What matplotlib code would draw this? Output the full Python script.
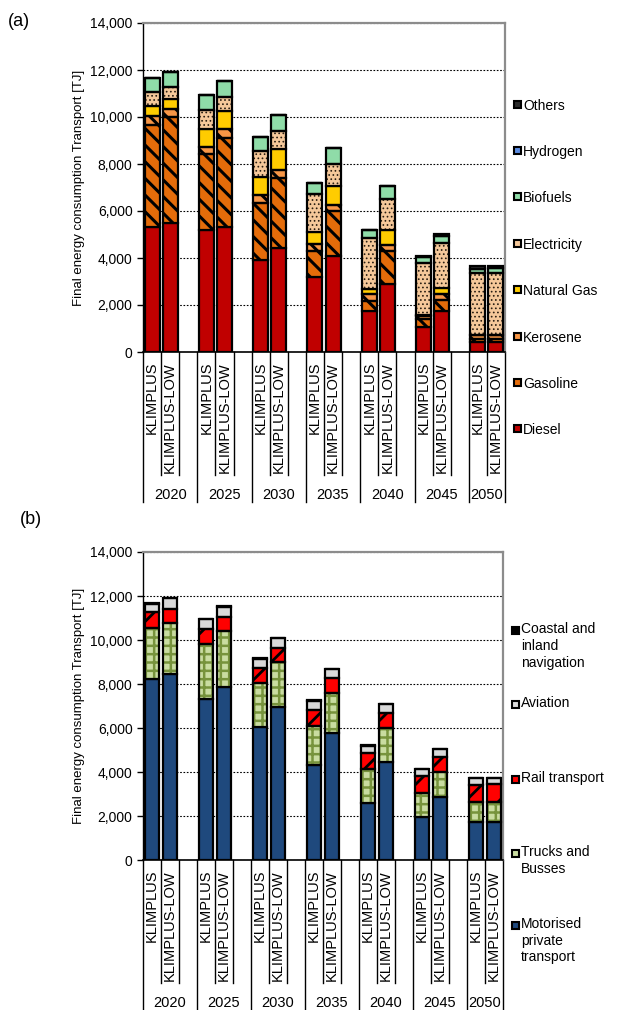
import numpy as np
import matplotlib as mpl
mpl.use("Agg")
from matplotlib import pyplot as plt
from matplotlib.patches import Rectangle
import matplotlib.transforms as mtransforms

plt.rcParams["font.family"] = ["Liberation Sans", "DejaVu Sans"]

# - data (TJ), order per year: KLIMPLUS, KLIMPLUS-LOW
years = ["2020", "2025", "2030", "2035", "2040", "2045", "2050"]
scenarios = ["KLIMPLUS", "KLIMPLUS-LOW"]

diesel = [5320, 5470, 5180, 5330, 3900, 4420, 3190, 4100, 1760, 2900, 1070, 1760, 440, 440]
gasoline = [4320, 4510, 3230, 3790, 2450, 2980, 1090, 1880, 410, 1380, 330, 450, 100, 100]
kerosene = [400, 370, 330, 350, 320, 360, 330, 290, 300, 290, 130, 260, 180, 190]
natural_gas = [430, 430, 730, 780, 780, 880, 480, 810, 220, 630, 50, 270, 0, 0]
electricity = [610, 510, 830, 600, 1100, 760, 1650, 930, 2180, 1320, 2210, 1880, 2630, 2640]
biofuels = [590, 610, 650, 690, 610, 690, 450, 650, 330, 540, 250, 330, 170, 190]
hydrogen = [0, 0, 0, 0, 0, 0, 0, 0, 0, 0, 0, 0, 0, 0]
others = [0, 0, 0, 0, 0, 0, 0, 0, 0, 0, 60, 50, 140, 110]

mpt = [8210, 8440, 7300, 7880, 6060, 6970, 4320, 5760, 2610, 4440, 1940, 2850, 1740, 1740]
trucks = [2350, 2350, 2520, 2540, 2000, 2010, 1780, 1840, 1510, 1570, 1090, 1130, 910, 910]
rail = [700, 600, 660, 640, 650, 640, 720, 690, 730, 690, 790, 720, 760, 790]
aviation = [380, 500, 460, 450, 430, 460, 410, 390, 350, 390, 300, 330, 300, 270]
coastal = [30, 20, 20, 20, 20, 20, 20, 20, 20, 20, 20, 20, 20, 20]

# name, values, face colour, hatch, hatch colour, hatch linewidth
fuel_series = [
    ("Diesel", diesel, "#C00000", None, None, 1),
    ("Gasoline", gasoline, "#E46C0A", "\\\\", "black", 2.2),
    ("Kerosene", kerosene, "#F79646", "\\\\", "black", 2.2),
    ("Natural Gas", natural_gas, "#FFCC00", None, None, 1),
    ("Electricity", electricity, "#F5C89A", "....", "#2A1E12", 0.7),
    ("Biofuels", biofuels, "#8FDCA8", None, None, 1),
    ("Hydrogen", hydrogen, "#5B8BE0", None, None, 1),
    ("Others", others, "#2B2B2B", None, None, 1),
]
sector_series = [
    ("Motorised\nprivate\ntransport", mpt, "#1F497D", None, None, 1),
    ("Trucks and\nBusses", trucks, "#C9DCA0", "++", "#77933C", 1.8),
    ("Rail transport", rail, "#FF0000", "/", "black", 2.0),
    ("Aviation", aviation, "#D9D9D9", None, None, 1),
    ("Coastal and\ninland\nnavigation", coastal, "#000000", None, None, 1),
]

W, H = 619, 1010
fig = plt.figure(figsize=(W / 100, H / 100), dpi=100)


def fx(x):
    return x / W


def fy(y):
    return 1 - y / H


def draw_panel(ax, series):
    # slot positions: K, KL, gap per year
    xpos = []
    for g in range(len(years)):
        xpos.extend([3 * g, 3 * g + 1])
    xpos = np.array(xpos)
    bottom = np.zeros(len(xpos))
    for name, vals, color, hatch, hcolor, hlw in series:
        vals = np.array(vals, dtype=float)
        if hatch is not None:
            with plt.rc_context({"hatch.linewidth": hlw}):
                bars = ax.bar(xpos, vals, 0.83, bottom=bottom, color=color, hatch=hatch,
                              edgecolor=hcolor, linewidth=0, zorder=3)
                for b in bars:
                    try:
                        b.set_hatch_linewidth(hlw)
                    except AttributeError:
                        pass
            ax.bar(xpos, vals, 0.83, bottom=bottom, fill=False,
                   edgecolor="black", linewidth=1.6, zorder=4)
        else:
            ax.bar(xpos, vals, 0.83, bottom=bottom, color=color,
                   edgecolor="black", linewidth=1.6, zorder=3)
        bottom += vals

    ax.set_xlim(-0.5, 19.5)
    ax.set_ylim(0, 14000)
    ax.set_yticks(np.arange(0, 14001, 2000))
    ax.set_yticklabels([f"{v:,}" for v in range(0, 14001, 2000)], fontsize=10)
    ax.set_xticks([])
    ax.tick_params(axis="y", length=4, width=1)
    ax.yaxis.grid(True, linestyle=(0, (1.5, 1.5)), color="black", linewidth=0.8, zorder=1)
    ax.set_axisbelow(True)
    for side in ["top", "right"]:
        ax.spines[side].set_color("#8C8C8C")
        ax.spines[side].set_linewidth(1.6)
    ax.spines["left"].set_linewidth(1.0)
    ax.spines["bottom"].set_linewidth(1.2)
    ax.set_ylabel("Final energy consumption Transport [TJ]", fontsize=9.5, labelpad=4)

    # multi-level category axis
    ax_h = ax.get_position().height * H
    trans = mtransforms.blended_transform_factory(ax.transData, ax.transAxes)
    cat_len = -123 / ax_h
    grp_len = -150 / ax_h
    for i in range(21):
        xb = i - 0.5
        ln = grp_len if (i % 3 == 0 or i == 20) else cat_len
        ax.plot([xb, xb], [0, ln], color="black", linewidth=1.0,
                transform=trans, clip_on=False)
    for x, lab in zip(xpos, scenarios * len(years)):
        ax.text(x, -10 / ax_h, lab, rotation=90, ha="center", va="top",
                fontsize=10.5, transform=trans)
    for g, yr in enumerate(years):
        xc = 3 * g + 1.0 if g < len(years) - 1 else 3 * g + 0.5
        ax.text(xc, -143 / ax_h, yr, ha="center", va="center",
                fontsize=10.5, transform=trans)


# - panel (a)
ax1 = fig.add_axes([fx(143), fy(352), (505 - 143) / W, (352 - 23) / H])
draw_panel(ax1, fuel_series)

# - panel (b)
ax2 = fig.add_axes([fx(143), fy(860), (503 - 143) / W, (860 - 552) / H])
draw_panel(ax2, sector_series)

fig.text(fx(8), fy(22), "(a)", fontsize=13, va="center")
fig.text(fx(20), fy(519), "(b)", fontsize=13, va="center")


# - legends drawn on the figure
def legend_marker(x_mark, y, color):
    s = 7
    fig.add_artist(Rectangle((fx(x_mark - s / 2), fy(y + s / 2)), s / W, s / H,
                             facecolor=color, edgecolor="black", linewidth=1.5,
                             transform=fig.transFigure))


for i, (name, vals, color, *_) in enumerate(reversed(fuel_series)):
    yy = 104 + 46.4 * i
    legend_marker(517, yy, color)
    fig.text(fx(523), fy(yy), name, fontsize=10, va="center_baseline", ha="left")

sector_y = [630, 704, 779, 853, 925]
for yy, (name, vals, color, *_) in zip(sector_y, reversed(sector_series)):
    legend_marker(515, yy, color)
    fig.text(fx(521), fy(yy - 8), name, fontsize=10, va="top", ha="left",
             linespacing=1.25)

fig.savefig("out.png", dpi=100)
